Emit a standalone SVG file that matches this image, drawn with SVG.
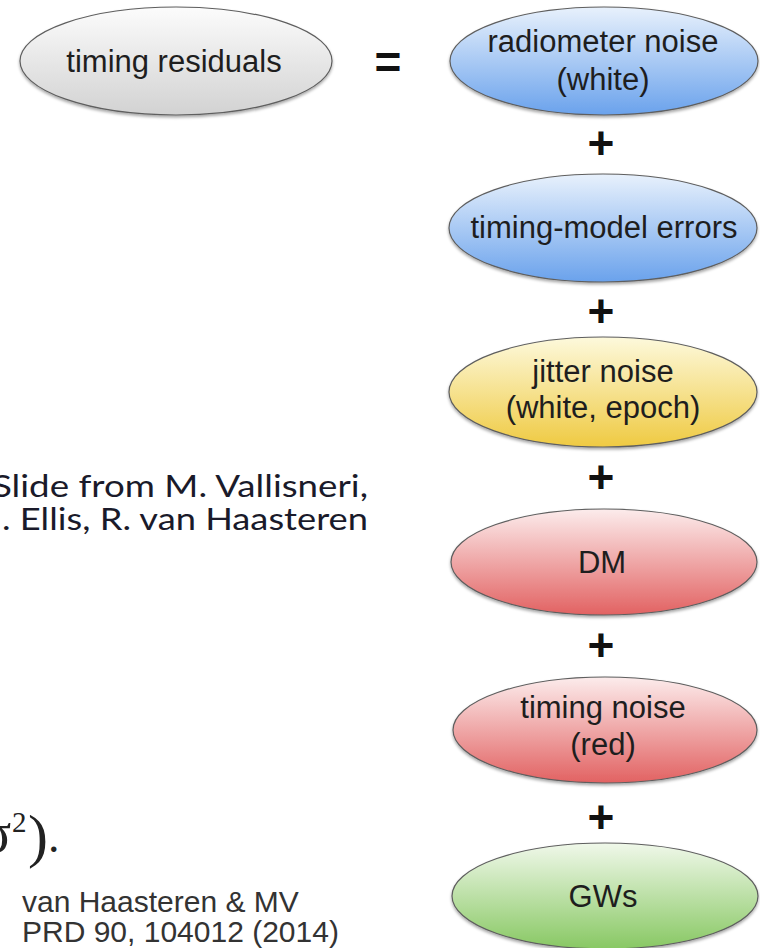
<svg xmlns="http://www.w3.org/2000/svg" width="760" height="948" viewBox="0 0 760 948">
<defs>
<linearGradient id="gGray" x1="0" y1="0" x2="0" y2="1"><stop offset="0" stop-color="#fcfcfc"/><stop offset="1" stop-color="#d2d2d2"/></linearGradient>
<linearGradient id="gBlue" x1="0" y1="0" x2="0" y2="1"><stop offset="0" stop-color="#e8f1fc"/><stop offset="1" stop-color="#6aa2ec"/></linearGradient>
<linearGradient id="gYellow" x1="0" y1="0" x2="0" y2="1"><stop offset="0" stop-color="#fdf9dc"/><stop offset="1" stop-color="#efca42"/></linearGradient>
<linearGradient id="gRed" x1="0" y1="0" x2="0" y2="1"><stop offset="0" stop-color="#fcecec"/><stop offset="1" stop-color="#e26262"/></linearGradient>
<linearGradient id="gGreen" x1="0" y1="0" x2="0" y2="1"><stop offset="0" stop-color="#f0f8ea"/><stop offset="1" stop-color="#88c863"/></linearGradient>
<filter id="sh" x="-10%" y="-20%" width="120%" height="150%">
<feDropShadow dx="0" dy="2" stdDeviation="1.5" flood-color="#000" flood-opacity="0.35"/>
</filter>
</defs>
<style>
.node ellipse{stroke:#5e5e5e;stroke-width:1.2;filter:url(#sh)}
.lbl{font-family:"Liberation Sans",Arial,sans-serif;font-size:31px;fill:#1e1e1e;text-anchor:middle}
.op{font-family:"Liberation Sans",Arial,sans-serif;font-size:46px;font-weight:bold;fill:#111;text-anchor:middle}
.cal{font-family:Lato,"Open Sans",sans-serif;font-size:30px;fill:#1a1a2a}
.ref{font-family:"Liberation Sans",Arial,sans-serif;font-size:30px;fill:#333}
.math{font-family:"Liberation Serif","Times New Roman",serif;fill:#222}
</style>
<rect width="760" height="948" fill="#ffffff"/>

<g id="timing-residuals" class="node">
<ellipse cx="176" cy="61" rx="156" ry="54" fill="url(#gGray)"/>
<text class="lbl" x="174" y="72">timing residuals</text>
</g>

<g id="connectors">
<text class="op" x="388" y="78">=</text>
<text class="op" x="601" y="159">+</text>
<text class="op" x="601" y="327">+</text>
<text class="op" x="601" y="493">+</text>
<text class="op" x="601" y="661">+</text>
<text class="op" x="601" y="833">+</text>
</g>

<g id="radiometer-noise" class="node">
<ellipse cx="604" cy="61" rx="154" ry="54" fill="url(#gBlue)"/>
<text class="lbl" x="603" y="52">radiometer noise</text>
<text class="lbl" x="603" y="90">(white)</text>
</g>

<g id="timing-model-errors" class="node">
<ellipse cx="603" cy="228" rx="154" ry="54" fill="url(#gBlue)"/>
<text class="lbl" x="604" y="238">timing-model errors</text>
</g>

<g id="jitter-noise" class="node">
<ellipse cx="603" cy="392" rx="154" ry="55" fill="url(#gYellow)"/>
<text class="lbl" x="603" y="382">jitter noise</text>
<text class="lbl" x="603" y="418">(white, epoch)</text>
</g>

<g id="dm" class="node">
<ellipse cx="604" cy="562" rx="153" ry="53" fill="url(#gRed)"/>
<text class="lbl" x="602" y="573">DM</text>
</g>

<g id="timing-noise" class="node">
<ellipse cx="605" cy="730" rx="152" ry="53" fill="url(#gRed)"/>
<text class="lbl" x="603" y="718">timing noise</text>
<text class="lbl" x="603" y="755">(red)</text>
</g>

<g id="gws" class="node">
<ellipse cx="605" cy="896" rx="153" ry="53" fill="url(#gGreen)"/>
<text class="lbl" x="603" y="907">GWs</text>
</g>

<g id="caption">
<text class="cal" x="-8" y="497" textLength="376" lengthAdjust="spacingAndGlyphs">Slide from M. Vallisneri,</text>
<text class="cal" x="2" y="530" textLength="366" lengthAdjust="spacingAndGlyphs">. Ellis, R. van Haasteren</text>
<text class="math" x="-19" y="852" font-size="56">σ</text>
<text class="math" x="12" y="832" font-size="29">2</text>
<text class="math" x="28" y="856"><tspan font-size="60">)</tspan><tspan font-size="46" dy="-4">.</tspan></text>
<text class="ref" x="22" y="912">van Haasteren &amp; MV</text>
<text class="ref" x="22" y="942">PRD 90, 104012 (2014)</text>
</g>
</svg>
